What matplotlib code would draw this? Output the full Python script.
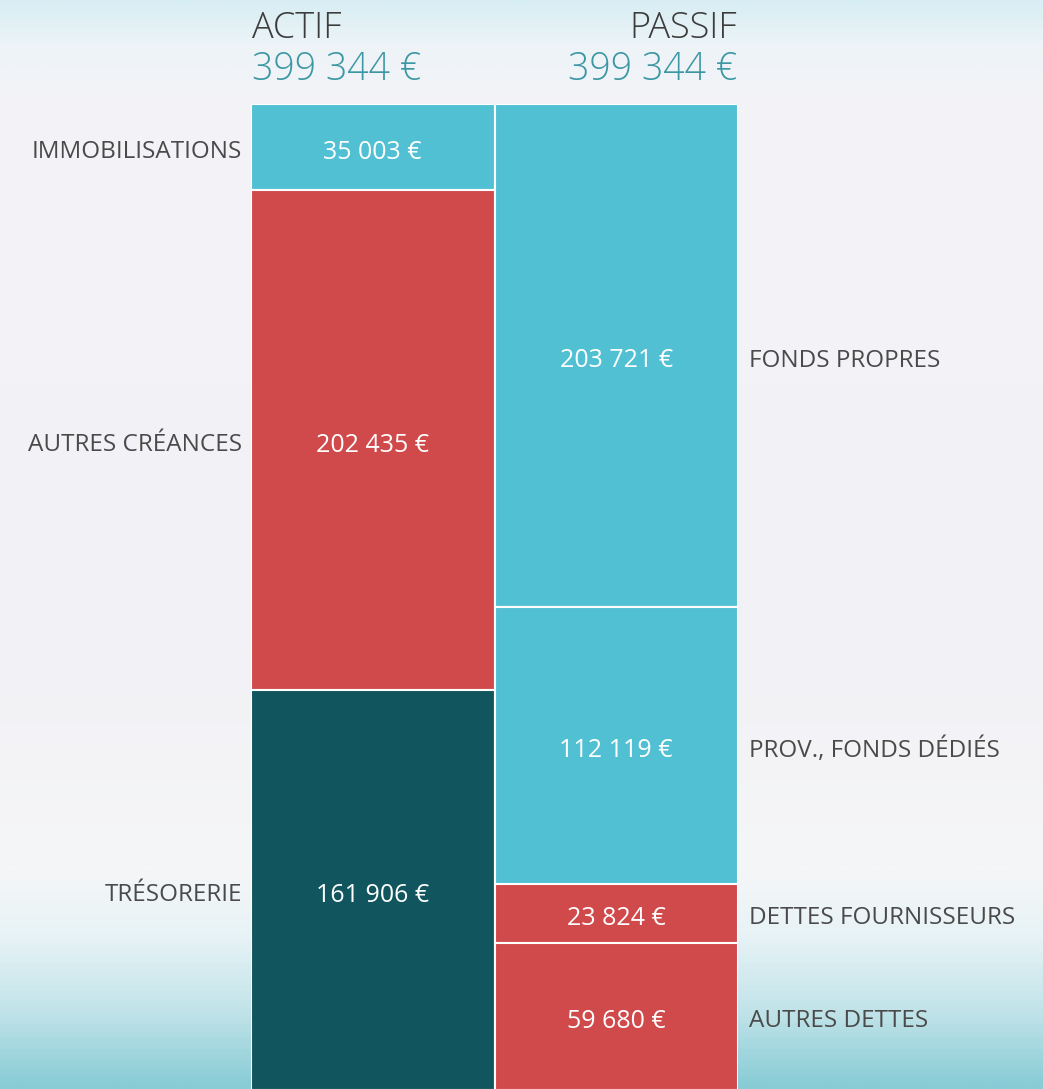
import numpy as np
import matplotlib.pyplot as plt
from matplotlib.colors import LinearSegmentedColormap

# data
total_label = "399 344 €"
actif_labels = ["IMMOBILISATIONS", "AUTRES CRÉANCES", "TRÉSORERIE"]
actif_values = [35003, 202435, 161906]
actif_colors = ["#51c0d3", "#d0494b", "#11555e"]

passif_labels = ["FONDS PROPRES", "PROV., FONDS DÉDIÉS", "DETTES FOURNISSEURS", "AUTRES DETTES"]
passif_values = [203721, 112119, 23824, 59680]
passif_colors = ["#51c0d3", "#51c0d3", "#d0494b", "#d0494b"]

def fmt(v):
    return f"{v:,}".replace(",", " ") + " €"

plt.rcParams['font.family'] = ['Open Sans', 'DejaVu Sans']

W, H = 1043, 1089
fig = plt.figure(figsize=(W / 100, H / 100), dpi=100)

# background gradient
bg = fig.add_axes([0, 0, 1, 1])
bg.set_axis_off()
cmap = LinearSegmentedColormap.from_list("bg", [
    (0.0, "#d8eef4"), (0.04, "#eef4f7"), (0.1, "#f4f3f7"), (0.6, "#f2f1f5"),
    (0.8, "#f5f6f8"), (0.86, "#e8f3f6"), (0.93, "#c2e4e9"), (1.0, "#88ccd6")])
grad = np.linspace(0, 1, 400).reshape(-1, 1)
bg.imshow(grad, aspect="auto", cmap=cmap, extent=[0, 1, 0, 1], origin="upper")
bg.set_xlim(0, 1)
bg.set_ylim(0, 1)

total = sum(actif_values)
top_px, bot_px = 104, 1090
left_px, right_px = 251, 738
ax = fig.add_axes([left_px / W, (H - bot_px) / H, (right_px - left_px) / W, (bot_px - top_px) / H])
ax.set_xlim(0, 2)
ax.set_ylim(total, 0)
ax.set_axis_off()

txt = "#4a4a4a"
lab_fs = 17.5
val_fs = 18
wt = "normal"

def label(x, y, s, **kw):
    # small downward nudge so text sits centred like the original
    ax.annotate(s, (x, y), xytext=(0, -1.5), textcoords="offset points",
                va="center_baseline", fontweight=wt, annotation_clip=False, **kw)

bottom = 0
for lab, v, c in zip(actif_labels, actif_values, actif_colors):
    ax.bar(0.5, v, width=1, bottom=bottom, color=c, edgecolor="white", linewidth=1.5)
    mid = bottom + v / 2
    label(0.5, mid, fmt(v), color="white", ha="center", fontsize=val_fs)
    label(-0.035, mid, lab, color=txt, ha="right", fontsize=lab_fs)
    bottom += v

bottom = 0
for lab, v, c in zip(passif_labels, passif_values, passif_colors):
    ax.bar(1.5, v, width=1, bottom=bottom, color=c, edgecolor="white", linewidth=1.5)
    mid = bottom + v / 2
    label(1.5, mid, fmt(v), color="white", ha="center", fontsize=val_fs)
    label(2.045, mid, lab, color=txt, ha="left", fontsize=lab_fs)
    bottom += v

# headers
fig.text(252 / W, 1 - 38 / H, "ACTIF", color="#3c3c3c", fontsize=26, ha="left",
         va="baseline", fontweight="light")
fig.text(252 / W, 1 - 80 / H, total_label, color="#3a97a3", fontsize=27, ha="left",
         va="baseline", fontweight="light")
fig.text(737 / W, 1 - 38 / H, "PASSIF", color="#3c3c3c", fontsize=26, ha="right",
         va="baseline", fontweight="light")
fig.text(737 / W, 1 - 80 / H, total_label, color="#3a97a3", fontsize=27, ha="right",
         va="baseline", fontweight="light")

fig.savefig("out.png", dpi=100)
